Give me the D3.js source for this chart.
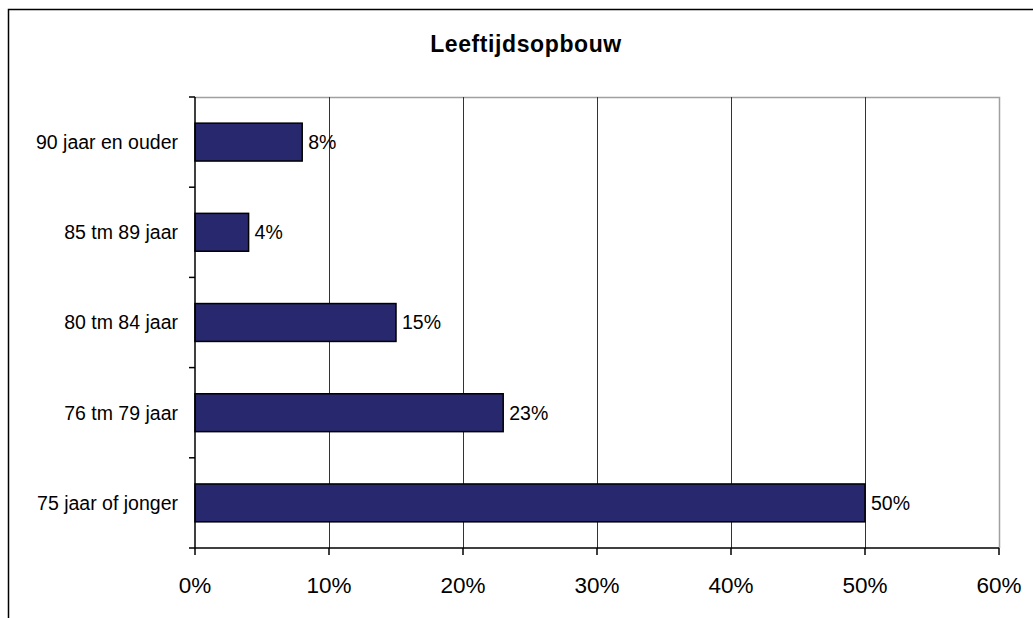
<!DOCTYPE html>
<html>
<head>
<meta charset="utf-8">
<script src="https://cdn.jsdelivr.net/npm/d3@7"></script>
<style>
  body { margin: 0; background: #fff; }
  svg text { font-family: "Liberation Sans", Arial, sans-serif; fill: #000; }
</style>
</head>
<body>
<div id="chart"></div>
<script>
// categorieën van boven naar beneden
const categories = ["90 jaar en ouder", "85 tm 89 jaar", "80 tm 84 jaar", "76 tm 79 jaar", "75 jaar of jonger"];
const values = [0.08, 0.04, 0.15, 0.23, 0.50];
const xTicks = [0, 0.1, 0.2, 0.3, 0.4, 0.5, 0.6];
const title = "Leeftijdsopbouw";

const width = 1033, height = 618;
const margin = { left: 195, right: 34, top: 97, bottom: 70 };

const svg = d3.select("#chart")
    .append("svg")
    .attr("width", width)
    .attr("height", height);

// buitenrand (rechts en onder afgesneden)
svg.append("rect")
    .attr("x", 8.5).attr("y", 9.5)
    .attr("width", 1040).attr("height", 640)
    .attr("fill", "none")
    .attr("stroke", "#000")
    .attr("stroke-width", 1.5);

const x = d3.scaleLinear()
    .domain([0, 0.6])
    .range([margin.left, width - margin.right]);

const y = d3.scaleBand()
    .domain(categories)
    .range([margin.top, height - margin.bottom])
    .paddingInner(0.58)
    .paddingOuter(0.29);

const plotTop = margin.top, plotBottom = height - margin.bottom;

// titel
svg.append("text")
    .attr("x", 526)
    .attr("y", 52)
    .attr("text-anchor", "middle")
    .attr("font-size", 23)
    .attr("font-weight", "bold")
    .attr("letter-spacing", 0.6)
    .text(title);

// rand van plotgebied (boven en rechts grijs)
svg.append("path")
    .attr("d", `M${x(0)},${plotTop + 0.5}H${x(0.6) + 0.5}V${plotBottom}`)
    .attr("fill", "none")
    .attr("stroke", "#a0a0a0")
    .attr("stroke-width", 1.5);

// verticale rasterlijnen
svg.append("g")
    .selectAll("line")
    .data(xTicks.slice(1, -1))
    .join("line")
    .attr("x1", d => Math.round(x(d)) + 0.5)
    .attr("x2", d => Math.round(x(d)) + 0.5)
    .attr("y1", plotTop)
    .attr("y2", plotBottom)
    .attr("stroke", "#333")
    .attr("stroke-width", 1);

// balken
svg.append("g")
    .selectAll("rect")
    .data(values)
    .join("rect")
    .attr("x", x(0))
    .attr("y", (d, i) => y(categories[i]))
    .attr("width", d => x(d) - x(0))
    .attr("height", y.bandwidth())
    .attr("fill", "#28286e")
    .attr("stroke", "#000")
    .attr("stroke-width", 1.5);

// waardelabels
svg.append("g")
    .selectAll("text")
    .data(values)
    .join("text")
    .attr("x", d => x(d) + 6)
    .attr("y", (d, i) => y(categories[i]) + y.bandwidth() / 2)
    .attr("dy", "0.35em")
    .attr("font-size", 19.5)
    .text(d => d3.format(".0%")(d));

// y-as
const yAxis = svg.append("g");
yAxis.append("line")
    .attr("x1", x(0)).attr("x2", x(0))
    .attr("y1", plotTop).attr("y2", plotBottom)
    .attr("stroke", "#000").attr("stroke-width", 1.5);

const boundaries = d3.range(categories.length + 1).map(i => plotTop + i * (plotBottom - plotTop) / categories.length);
yAxis.selectAll(".tick")
    .data(boundaries)
    .join("line")
    .attr("x1", x(0) - 6).attr("x2", x(0))
    .attr("y1", d => d).attr("y2", d => d)
    .attr("stroke", "#000").attr("stroke-width", 1.5);

yAxis.selectAll("text")
    .data(categories)
    .join("text")
    .attr("x", x(0) - 17)
    .attr("y", d => y(d) + y.bandwidth() / 2)
    .attr("dy", "0.35em")
    .attr("text-anchor", "end")
    .attr("font-size", 19.5)
    .text(d => d);

// x-as
const xAxis = svg.append("g");
xAxis.append("line")
    .attr("x1", x(0)).attr("x2", x(0.6))
    .attr("y1", plotBottom).attr("y2", plotBottom)
    .attr("stroke", "#000").attr("stroke-width", 1.5);

xAxis.selectAll(".tick")
    .data(xTicks)
    .join("line")
    .attr("x1", d => x(d)).attr("x2", d => x(d))
    .attr("y1", plotBottom).attr("y2", plotBottom + 7)
    .attr("stroke", "#000").attr("stroke-width", 1.5);

xAxis.selectAll("text")
    .data(xTicks)
    .join("text")
    .attr("x", d => x(d))
    .attr("y", plotBottom + 45)
    .attr("text-anchor", "middle")
    .attr("font-size", 22.5)
    .text(d => d3.format(".0%")(d));
</script>
</body>
</html>
